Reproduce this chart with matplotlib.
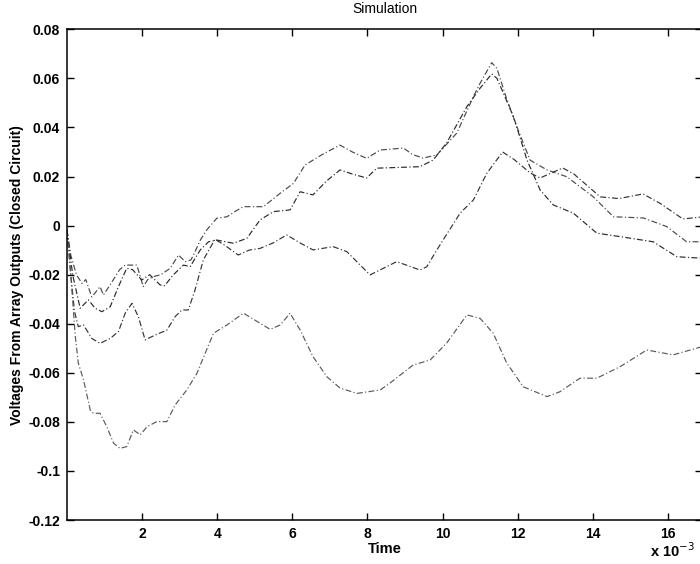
import matplotlib.pyplot as plt

plt.rcParams['font.family'] = ['Liberation Sans', 'DejaVu Sans']

# time in units of 1e-3, voltages in V
t_a = [0, 0.1, 0.25, 0.4, 0.5, 0.66, 0.88, 0.97, 1.2, 1.4, 1.55, 1.86, 2.03, 2.15,
       2.3, 2.5, 2.75, 2.97, 3.15, 3.3, 3.4, 3.55, 3.72, 3.99, 4.26, 4.5, 4.7, 5.23,
       5.68, 6.03, 6.34, 6.8, 7.27, 7.6, 7.98, 8.34, 8.96, 9.2, 9.48, 9.85, 10.38,
       10.82, 11.0, 11.31, 11.45, 11.7, 11.98, 12.33, 12.78, 13.31, 14.01, 14.55,
       15.35, 15.97, 16.5, 16.9]
v_a = [-0.0018, -0.012, -0.02, -0.0236, -0.022, -0.0291, -0.0249, -0.0283, -0.0229,
       -0.018, -0.0161, -0.0161, -0.0249, -0.022, -0.0208, -0.020, -0.0174, -0.012,
       -0.0147, -0.014, -0.011, -0.0059, -0.0018, 0.003, 0.0036, 0.006, 0.0077,
       0.0077, 0.0132, 0.0172, 0.0247, 0.029, 0.0328, 0.030, 0.0274, 0.0308, 0.0316,
       0.029, 0.0275, 0.0288, 0.0377, 0.0525, 0.058, 0.0664, 0.064, 0.052, 0.0403,
       0.0267, 0.0227, 0.0199, 0.0118, 0.0036, 0.0031, -0.0004, -0.0066, -0.0066]

t_b = [0, 0.15, 0.35, 0.57, 0.75, 0.93, 1.15, 1.37, 1.59, 1.75, 1.99, 2.2, 2.48, 2.6,
       2.83, 3.1, 3.28, 3.55, 3.77, 3.99, 4.43, 4.79, 5.14, 5.5, 5.94, 6.21, 6.55,
       6.9, 7.27, 7.6, 7.98, 8.25, 9.4, 9.75, 10.11, 10.65, 11.0, 11.31, 11.45,
       11.89, 12.25, 12.6, 12.95, 13.48, 14.11, 14.73, 15.61, 16.24, 16.9]
v_b = [-0.0018, -0.02, -0.0337, -0.0303, -0.0337, -0.0351, -0.0331, -0.0249, -0.0174,
       -0.018, -0.0222, -0.020, -0.0242, -0.0245, -0.0201, -0.0161, -0.0167, -0.0099,
       -0.0066, -0.0059, -0.0072, -0.0052, 0.0023, 0.0057, 0.0064, 0.0138, 0.0125,
       0.018, 0.0227, 0.021, 0.0194, 0.0234, 0.024, 0.0267, 0.0337, 0.0485, 0.056,
       0.0618, 0.060, 0.0444, 0.0267, 0.0145, 0.0084, 0.0051, -0.0031, -0.0045,
       -0.0066, -0.0127, -0.0133]

t_c = [0, 0.1, 0.2, 0.3, 0.44, 0.66, 0.88, 1.15, 1.37, 1.55, 1.73, 1.9, 2.08, 2.35,
       2.66, 2.88, 3.06, 3.23, 3.41, 3.63, 3.94, 4.2, 4.56, 4.85, 5.14, 5.5, 5.85,
       6.21, 6.55, 7.09, 7.45, 8.07, 8.78, 9.4, 9.58, 9.85, 10.47, 10.82, 11.18, 11.6,
       11.9, 12.34, 12.6, 13.2, 13.5, 14.2, 14.7, 15.34, 15.8, 16.4, 16.9]
v_c = [-0.0018, -0.02, -0.035, -0.0412, -0.0405, -0.046, -0.048, -0.046, -0.0432,
       -0.0357, -0.0317, -0.0371, -0.0466, -0.0446, -0.0426, -0.0371, -0.0344,
       -0.0344, -0.0262, -0.014, -0.0056, -0.008, -0.012, -0.010, -0.0093, -0.007,
       -0.0038, -0.0071, -0.0099, -0.0086, -0.0106, -0.0201, -0.0147, -0.0181, -0.0168,
       -0.0099, 0.0051, 0.0104, 0.0213, 0.030, 0.027, 0.0214, 0.0194, 0.0235, 0.021,
       0.0117, 0.011, 0.0129, 0.009, 0.0027, 0.0035]

t_d = [0, 0.1, 0.22, 0.3, 0.44, 0.62, 0.7, 0.88, 1.06, 1.24, 1.41, 1.59, 1.77, 1.95,
       2.13, 2.39, 2.66, 2.88, 3.19, 3.46, 3.9, 4.26, 4.7, 5.14, 5.41, 5.68, 5.94,
       6.21, 6.55, 6.92, 7.27, 7.72, 8.34, 8.6, 9.22, 9.67, 10.11, 10.65, 11.0, 11.35,
       11.71, 12.15, 12.78, 13.13, 13.66, 14.11, 14.73, 15.44, 16.14, 16.9]
v_d = [-0.0018, -0.02, -0.045, -0.056, -0.0629, -0.0752, -0.0765, -0.0765, -0.082,
       -0.0887, -0.0908, -0.0901, -0.0833, -0.0853, -0.082, -0.0799, -0.0799, -0.0731,
       -0.067, -0.0602, -0.0439, -0.0405, -0.0357, -0.0398, -0.0423, -0.0405, -0.0357,
       -0.0426, -0.0534, -0.0616, -0.0662, -0.0684, -0.067, -0.0642, -0.0568, -0.0548,
       -0.0479, -0.0364, -0.0378, -0.0439, -0.056, -0.0657, -0.0697, -0.0677, -0.0622,
       -0.0622, -0.0575, -0.0507, -0.0527, -0.0494]

x_ticks = [2, 4, 6, 8, 10, 12, 14, 16]
y_ticks = [-0.12, -0.1, -0.08, -0.06, -0.04, -0.02, 0, 0.02, 0.04, 0.06, 0.08]
y_labels = ['-0.12', '-0.1', '-0.08', '-0.06', '-0.04', '-0.02', '0',
            '0.02', '0.04', '0.06', '0.08']

fig = plt.figure(figsize=(7, 5.64), dpi=100)
ax = fig.add_axes([67 / 700, 44 / 564, 635 / 700, 490.7 / 564])

dash = (0, (5, 2, 1, 2))
for t, v, c in [(t_a, v_a, '#4a4a4a'), (t_b, v_b, '#2a2a2a'),
                (t_c, v_c, '#333333'), (t_d, v_d, '#5a5a5a')]:
    ax.plot(t, v, color=c, linewidth=0.85, linestyle=dash)

ax.set_xlim(0, 16.91)
ax.set_ylim(-0.12, 0.08)
ax.set_xticks(x_ticks)
ax.set_xticklabels([str(x) for x in x_ticks])
ax.set_yticks(y_ticks)
ax.set_yticklabels(y_labels)
ax.tick_params(direction='in', length=5, width=1, top=True, right=True,
               labelsize=10, pad=5)
for lbl in ax.get_xticklabels() + ax.get_yticklabels():
    lbl.set_fontweight('bold')
for sp in ax.spines.values():
    sp.set_linewidth(1.1)

ax.set_title('Simulation', fontsize=10, pad=12)
ax.set_xlabel('Time', fontsize=10.5, fontweight='bold', labelpad=1)
ax.set_ylabel('Voltages From Array Outputs (Closed Circuit)', fontsize=10,
              fontweight='bold', labelpad=3)
fig.text(650 / 700, 13 / 564, 'x 10$^{-3}$', fontsize=10.5, fontweight='bold',
         ha='left', va='center')

fig.savefig('out.png', dpi=100)
